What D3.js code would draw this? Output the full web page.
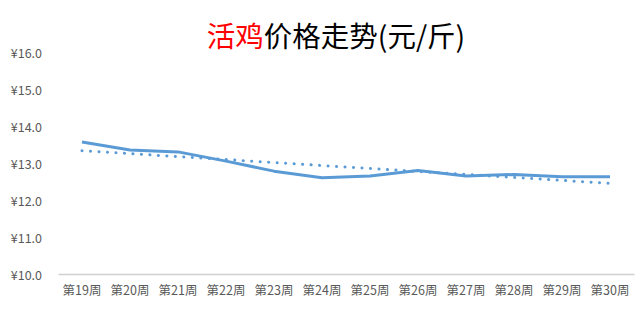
<!DOCTYPE html>
<html>
<head>
    <meta charset="utf-8">
    <style>
        html, body { padding: 0; margin: 0; background: #fff; }
        #chart { width: 640px; height: 315px; }
        text { font-family: "Noto Sans CJK SC", "Noto Sans", sans-serif; }
    </style>
</head>
<body>
    <div id="chart"></div>
    <script src="https://cdn.jsdelivr.net/npm/d3@7/dist/d3.min.js"></script>
    <script>
        const weeks = ['第19周', '第20周', '第21周', '第22周', '第23周', '第24周',
                       '第25周', '第26周', '第27周', '第28周', '第29周', '第30周'];
        const prices = [13.57, 13.35, 13.30, 13.05, 12.78, 12.60,
                        12.65, 12.80, 12.65, 12.69, 12.63, 12.63];
        const yTicks = [10, 11, 12, 13, 14, 15, 16];

        const width = 640, height = 315;
        const margin = { top: 52, right: 6, bottom: 41, left: 58 };

        const svg = d3.select('#chart').append('svg')
            .attr('width', width)
            .attr('height', height);

        const x = d3.scaleBand()
            .domain(weeks)
            .range([margin.left, width - margin.right]);

        const y = d3.scaleLinear()
            .domain([10, 16])
            .range([height - margin.bottom, margin.top]);

        // title
        const title = svg.append('text')
            .attr('x', 336)
            .attr('y', 47)
            .attr('text-anchor', 'middle')
            .style('font-size', '28.5px');
        title.append('tspan').attr('fill', '#ff0000').text('活鸡');
        title.append('tspan').attr('fill', '#000').text('价格走势(元/斤)');

        // y axis labels
        const yAxis = svg.append('g')
            .attr('transform', `translate(${margin.left - 16},0)`)
            .call(d3.axisLeft(y).tickValues(yTicks).tickSize(0)
                .tickFormat(d => '¥' + d3.format('.1f')(d)));
        yAxis.select('.domain').remove();
        yAxis.selectAll('text')
            .attr('fill', '#595959')
            .attr('x', 0)
            .attr('dy', '0.45em')
            .style('font-size', '12.5px');

        // x axis
        const xAxis = svg.append('g')
            .attr('transform', `translate(0,${height - margin.bottom})`)
            .call(d3.axisBottom(x).tickSize(0).tickPadding(12));
        xAxis.select('.domain').attr('stroke', '#d0d0d0').attr('stroke-width', 1.3);
        xAxis.selectAll('text')
            .attr('fill', '#595959')
            .style('font-size', '12.5px');

        // series line
        const line = d3.line()
            .x((d, i) => x(weeks[i]) + x.bandwidth() / 2)
            .y(d => y(d));

        svg.append('path')
            .datum(prices)
            .attr('d', line)
            .attr('fill', 'none')
            .attr('stroke', '#5b9bd5')
            .attr('stroke-width', 3)
            .attr('stroke-linejoin', 'round');

        // linear trendline (least squares fit of prices)
        const n = prices.length;
        const mx = d3.mean(prices, (d, i) => i);
        const my = d3.mean(prices);
        const slope = d3.sum(prices, (d, i) => (i - mx) * (d - my)) /
                      d3.sum(prices, (d, i) => (i - mx) * (i - mx));
        const trend = [0, n - 1].map(i => ({ i, v: my + slope * (i - mx) }));

        svg.append('path')
            .datum(trend)
            .attr('d', d3.line()
                .x(d => x(weeks[d.i]) + x.bandwidth() / 2)
                .y(d => y(d.v)))
            .attr('fill', 'none')
            .attr('stroke', '#5b9bd5')
            .attr('stroke-width', 3)
            .attr('stroke-linecap', 'round')
            .attr('stroke-dasharray', '0.1,8.4');
    </script>
</body>
</html>
